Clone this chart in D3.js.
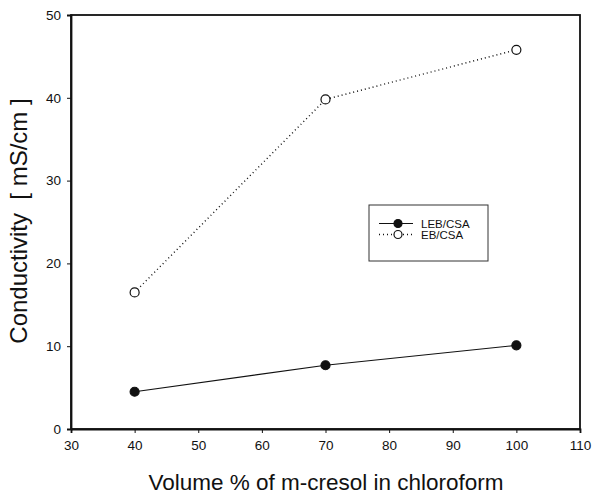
<!DOCTYPE html>
<html>
<head>
<meta charset="utf-8">
<script src="https://cdn.jsdelivr.net/npm/d3@7"></script>
<style>
body { margin: 0; background: #fff; }
text { font-family: Arial, "Liberation Sans", sans-serif; fill: #111; }
</style>
</head>
<body>
<svg width="593" height="497"></svg>
<script>
var volume = [40, 70, 100];
var lebCsa = [4.5, 7.7, 10.1];
var ebCsa = [16.5, 39.8, 45.8];
var xTicks = [30, 40, 50, 60, 70, 80, 90, 100, 110];
var yTicks = [0, 10, 20, 30, 40, 50];

var svg = d3.select('svg'),
	margin = {top: 15, right: 13, bottom: 68, left: 71},
	width = 593 - margin.left - margin.right,
	height = 497 - margin.top - margin.bottom,
	g = svg.append('g').attr('transform', 'translate(' + margin.left + ',' + margin.top + ')');

var x = d3.scaleLinear().domain([30, 110]).range([0, width]);
var y = d3.scaleLinear().domain([0, 50]).range([height, 0]);

// frame
g.append('rect')
	.attr('width', width).attr('height', height)
	.attr('fill', 'none').attr('stroke', '#111').attr('stroke-width', 1.8);

var xAxis = g.append('g')
	.attr('transform', 'translate(0,' + height + ')')
	.call(d3.axisBottom(x).tickValues(xTicks).tickSize(4).tickPadding(7));
var yAxis = g.append('g')
	.call(d3.axisLeft(y).tickValues(yTicks).tickSize(4).tickPadding(6));

[xAxis, yAxis].forEach(function(a){
	a.select('.domain').attr('stroke', '#111').attr('stroke-width', 1.8);
	a.selectAll('.tick line').attr('stroke', '#111');
	a.selectAll('.tick text').attr('font-size', 13.5).attr('font-family', 'Arial, "Liberation Sans", sans-serif').attr('fill', '#111');
});

var line = d3.line()
	.x(function(d){ return x(d[0]); })
	.y(function(d){ return y(d[1]); });

var series = [
	{name: 'LEB/CSA', values: lebCsa, fill: '#111', dash: null},
	{name: 'EB/CSA', values: ebCsa, fill: '#fff', dash: '1,3'}
];

series.forEach(function(s){
	var pts = volume.map(function(v, i){ return [v, s.values[i]]; });
	g.append('path')
		.attr('d', line(pts))
		.attr('fill', 'none')
		.attr('stroke', '#111')
		.attr('stroke-width', s.dash ? 1.4 : 1.1)
		.attr('stroke-dasharray', s.dash);
	g.selectAll(null).data(pts).enter().append('circle')
		.attr('cx', function(d){ return x(d[0]); })
		.attr('cy', function(d){ return y(d[1]); })
		.attr('r', 4.5)
		.attr('fill', s.fill)
		.attr('stroke', '#111')
		.attr('stroke-width', 1.2);
});

// legend
var lg = svg.append('g').attr('transform', 'translate(369,205)');
lg.append('rect').attr('width', 119).attr('height', 56)
	.attr('fill', 'none').attr('stroke', '#333').attr('stroke-width', 1);
series.forEach(function(s, i){
	var ly = 18.5 + i * 11;
	lg.append('line').attr('x1', 10).attr('x2', 44).attr('y1', ly).attr('y2', ly)
		.attr('stroke', '#111').attr('stroke-width', s.dash ? 1.4 : 1.1)
		.attr('stroke-dasharray', s.dash);
	lg.append('circle').attr('cx', 29).attr('cy', ly).attr('r', 4)
		.attr('fill', s.fill).attr('stroke', '#111').attr('stroke-width', 1.2);
	lg.append('text').attr('x', 52).attr('y', ly + 4.2)
		.attr('font-size', 11.5).text(s.name);
});

svg.append('text')
	.attr('x', 326).attr('y', 490)
	.attr('text-anchor', 'middle').attr('font-size', 22.5)
	.text('Volume % of m-cresol in chloroform');

svg.append('text')
	.attr('transform', 'translate(27,221) rotate(-90)')
	.attr('text-anchor', 'middle').attr('font-size', 24)
	.style('white-space', 'pre')
	.text('Conductivity  [ mS/cm ]');
</script>
</body>
</html>
